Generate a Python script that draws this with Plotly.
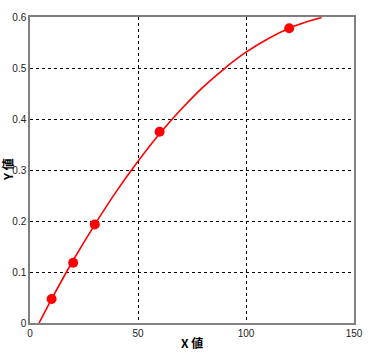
import plotly.graph_objects as go

# measured points
x_pts = [10, 20, 30, 60, 120]
y_pts = [0.047, 0.118, 0.193, 0.375, 0.578]

# fitted curve
x_fit = [4.2, 10, 20, 30, 40, 50, 60, 70, 80, 90, 100, 110, 120, 130, 135]
y_fit = [0.0, 0.047, 0.123, 0.193, 0.258, 0.317, 0.371, 0.419, 0.462, 0.499, 0.531, 0.557, 0.578, 0.593, 0.599]

x_ticks = [0, 50, 100, 150]
y_ticks = [0, 0.1, 0.2, 0.3, 0.4, 0.5, 0.6]

fig = go.Figure()
fig.add_trace(go.Scatter(x=x_fit, y=y_fit, mode="lines", line=dict(color="#ff0000", width=1.6, shape="spline"),
                         hoverinfo="skip", cliponaxis=True))
fig.add_trace(go.Scatter(x=x_pts, y=y_pts, mode="markers", marker=dict(color="#ff0000", size=10)))

axis_common = dict(showline=True, mirror=True, linecolor="#808080", linewidth=1.5,
                   showgrid=True, gridcolor="#000000", gridwidth=1, griddash="3px,3px",
                   zeroline=False, ticks="", automargin=False,
                   tickfont=dict(family="Liberation Sans, Arial", size=10, color="#222"))

title_font = dict(family="Noto Sans CJK JP", size=12, color="#000")

fig.update_layout(
    width=374, height=353,
    margin=dict(l=30, r=20, t=17, b=30),
    paper_bgcolor="white", plot_bgcolor="white",
    showlegend=False,
    xaxis=dict(range=[0, 150], tickvals=x_ticks, ticktext=[str(v) for v in x_ticks], **axis_common),
    yaxis=dict(range=[0, 0.6], tickvals=y_ticks, ticktext=["0", "0.1", "0.2", "0.3", "0.4", "0.5", "0.6"],
               ticklabelstandoff=0, **axis_common),
    annotations=[
        dict(text="<b>X 値</b>", x=192, y=342, xref="paper", yref="paper", showarrow=False, font=title_font),
        dict(text="<b>Y 値</b>", x=7, y=170, xref="paper", yref="paper", showarrow=False, font=title_font, textangle=-90),
    ],
)
# convert pixel positions of titles to paper coordinates
pw, ph = 374 - 30 - 20, 353 - 17 - 30
for a in fig.layout.annotations:
    px, py = a.x, a.y
    a.x = (px - 30) / pw
    a.y = (353 - 30 - py) / ph
    a.xanchor = "center"
    a.yanchor = "middle"
fig.write_html("out.html")
